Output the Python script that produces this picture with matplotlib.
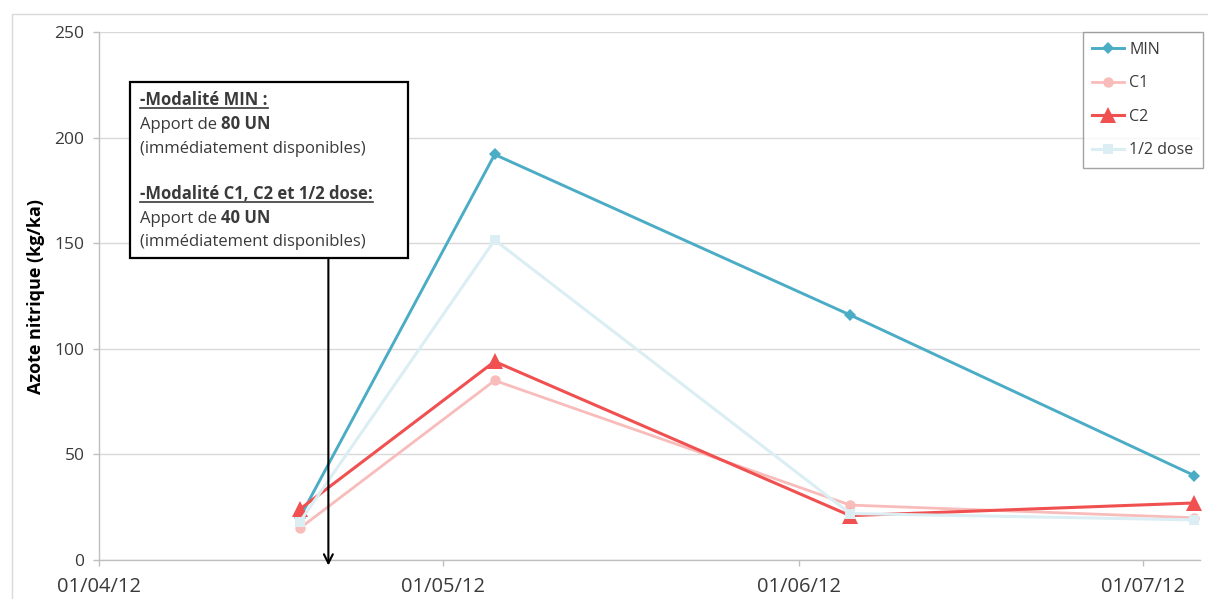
import matplotlib
matplotlib.use("Agg")
import matplotlib.pyplot as plt
import matplotlib.dates as mdates
from matplotlib.lines import Line2D
from matplotlib.patches import Rectangle
import pandas as pd

plt.rcParams["font.family"] = ["Open Sans", "DejaVu Sans"]

# Sampling dates and nitrate nitrogen per treatment (kg/ha)
dates = pd.to_datetime(["2012-04-18 12:00", "2012-05-05 12:00",
                        "2012-06-05 12:00", "2012-07-05 12:00"])
n_min = [20, 192, 116, 40]
n_c1 = [15, 85, 26, 20]
n_c2 = [24, 94, 21, 27]
n_half = [18, 151.5, 22, 19]

apport_date = pd.Timestamp("2012-04-21")
month_ticks = pd.to_datetime(["2012-04-01", "2012-05-01", "2012-06-01", "2012-07-01"])
y_ticks = [0, 50, 100, 150, 200, 250]

W, H = 1208, 599
TXT = "#3A3A3A"
AX = "#BFBFBF"


def fx(px):
    return px / W


def fy(py):
    return 1 - py / H


fig = plt.figure(figsize=(W / 100, H / 100), dpi=100)
ax = fig.add_axes([fx(99), fy(560), fx(1200) - fx(99), fy(32) - fy(560)])

series = [
    ("MIN", n_min, "#4BACC6", "D", 6.5, 2.1),
    ("C1", n_c1, "#F8BCBA", "o", 7.5, 2.0),
    ("C2", n_c2, "#F05050", "^", 11, 2.2),
    ("1/2 dose", n_half, "#DAEEF3", "s", 7.5, 2.2),
]
handles = []
for name, vals, col, mk, ms, lw in series:
    (ln,) = ax.plot(dates, vals, color=col, marker=mk, markersize=ms,
                    linewidth=lw, markeredgewidth=0, clip_on=False, label=name)
    handles.append(ln)

ax.set_xlim(pd.Timestamp("2012-04-01"), pd.Timestamp("2012-07-06"))
ax.set_ylim(0, 250)
ax.set_xticks(month_ticks)
ax.xaxis.set_major_formatter(mdates.DateFormatter("%d/%m/%y"))
ax.set_yticks(y_ticks)
ax.grid(axis="y", color="#D9D9D9", linewidth=1)
ax.set_axisbelow(True)

for s in ("top", "right"):
    ax.spines[s].set_visible(False)
for s in ("left", "bottom"):
    ax.spines[s].set_color(AX)
    ax.spines[s].set_linewidth(1)

ax.tick_params(axis="x", colors=AX, labelcolor=TXT, labelsize=14.5,
               length=4, width=1, pad=8)
ax.tick_params(axis="y", colors=AX, labelcolor=TXT, labelsize=12.5,
               length=4.5, width=1, pad=6)
ax.set_ylabel("Azote nitrique (kg/ka)", fontsize=13, fontweight="bold",
              color="black", labelpad=7)

leg = ax.legend(handles=handles, loc="upper right",
                bbox_to_anchor=(fx(1203), fy(32)), bbox_transform=fig.transFigure,
                fontsize=11.5, frameon=True, fancybox=False, borderaxespad=0,
                handlelength=2.0, handletextpad=0.3, labelspacing=1.1,
                borderpad=0.6, labelcolor=TXT)
leg.get_frame().set_edgecolor("#8C8C8C")
leg.get_frame().set_linewidth(1)

# Outer chart-area frame
fig.add_artist(Rectangle((fx(12), -0.1), 2, fy(14) + 0.1, transform=fig.transFigure,
                         fill=False, edgecolor="#D9D9D9", linewidth=1, zorder=-1))

# Fertiliser input callout box
box = Rectangle((fx(130), fy(258)), fx(408) - fx(130), fy(82) - fy(258),
                transform=fig.transFigure, facecolor="white", edgecolor="black",
                linewidth=1.6, zorder=5)
fig.add_artist(box)

fig.canvas.draw()
rend = fig.canvas.get_renderer()

lines = [
    (105, [("-Modalité MIN :", "bold")], True),
    (129, [("Apport de ", "normal"), ("80 UN", "bold")], False),
    (153, [("(immédiatement disponibles)", "normal")], False),
    (199, [("-Modalité C1, C2 et 1/2 dose:", "bold")], True),
    (223, [("Apport de ", "normal"), ("40 UN", "bold")], False),
    (246, [("(immédiatement disponibles)", "normal")], False),
]
for base, parts, underline in lines:
    x = 140
    for txt, wt in parts:
        t = fig.text(fx(x), fy(base), txt, fontsize=12, fontweight=wt,
                     color=TXT, ha="left", va="baseline", zorder=6)
        ext = t.get_window_extent(renderer=rend)
        if underline:
            fig.add_artist(Line2D([fx(x), fx(x) + ext.width / W],
                                  [fy(base + 3), fy(base + 3)],
                                  transform=fig.transFigure, color=TXT,
                                  linewidth=1.2, zorder=6))
        x += ext.width

ax.annotate("", xy=(apport_date, -2.6), xytext=(apport_date, 143),
            xycoords="data", textcoords="data", annotation_clip=False,
            arrowprops=dict(arrowstyle="->", color="black", lw=1.5,
                            mutation_scale=16, shrinkA=0, shrinkB=0),
            zorder=6)

fig.savefig("out.png", dpi=100)
